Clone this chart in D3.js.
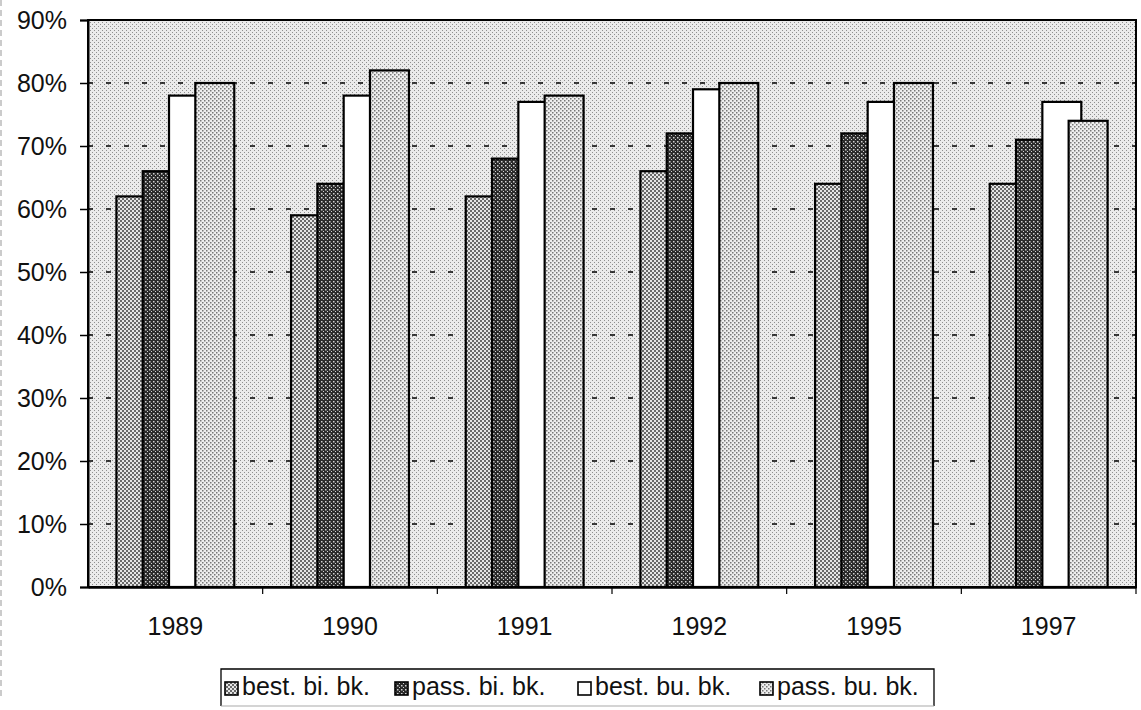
<!DOCTYPE html>
<html>
<head>
<meta charset="utf-8">
<script src="https://cdn.jsdelivr.net/npm/d3@7/dist/d3.min.js"></script>
<style>
  html, body { margin: 0; padding: 0; background: #fff; }
  svg { display: block; font-family: "Liberation Sans", Arial, Helvetica, sans-serif; }
</style>
</head>
<body>
<svg id="chart" width="1141" height="710"></svg>
<script>
// ---- data ----
const categories = ["1989", "1990", "1991", "1992", "1995", "1997"];
const seriesNames = ["best. bi. bk.", "pass. bi. bk.", "best. bu. bk.", "pass. bu. bk."];
const bestBiBk = [62, 59, 62, 66, 64, 64];
const passBiBk = [66, 64, 68, 72, 72, 71];
const bestBuBk = [78, 78, 77, 79, 77, 77];
const passBuBk = [80, 82, 78, 80, 80, 74];
const yTicks = [0, 10, 20, 30, 40, 50, 60, 70, 80, 90];

const seriesValues = [bestBiBk, passBiBk, bestBuBk, passBuBk];

// ---- layout ----
const svg = d3.select("#chart");
const pLeft = 88, pRight = 1136, pTop = 20, pBottom = 587;
const FS = 25;

const defs = svg.append("defs");
// background stipple
const pb = defs.append("pattern").attr("id", "pBg").attr("patternUnits", "userSpaceOnUse")
  .attr("width", 4).attr("height", 4);
pb.append("rect").attr("width", 4).attr("height", 4).attr("fill", "#ebebeb");
pb.append("rect").attr("x", 0).attr("y", 0).attr("width", 1).attr("height", 1).attr("fill", "#8f8f8f");
pb.append("rect").attr("x", 2).attr("y", 2).attr("width", 1).attr("height", 1).attr("fill", "#8f8f8f");

// series 1: medium checker
const p1 = defs.append("pattern").attr("id", "p0").attr("patternUnits", "userSpaceOnUse")
  .attr("width", 4).attr("height", 4);
p1.append("rect").attr("width", 4).attr("height", 4).attr("fill", "#e6e6e6");
p1.append("rect").attr("x", 0).attr("y", 0).attr("width", 2).attr("height", 2).attr("fill", "#6a6a6a");
p1.append("rect").attr("x", 2).attr("y", 2).attr("width", 2).attr("height", 2).attr("fill", "#6a6a6a");

// series 2: dark checker
const p2 = defs.append("pattern").attr("id", "p1").attr("patternUnits", "userSpaceOnUse")
  .attr("width", 4).attr("height", 4);
p2.append("rect").attr("width", 4).attr("height", 4).attr("fill", "#2a2a2a");
p2.append("rect").attr("x", 1).attr("y", 1).attr("width", 1.5).attr("height", 1.5).attr("fill", "#d0d0d0");
p2.append("rect").attr("x", 3).attr("y", 3).attr("width", 1).attr("height", 1).attr("fill", "#d0d0d0");

// series 4: light dots
const p4 = defs.append("pattern").attr("id", "p3").attr("patternUnits", "userSpaceOnUse")
  .attr("width", 4).attr("height", 4);
p4.append("rect").attr("width", 4).attr("height", 4).attr("fill", "#eeeeee");
p4.append("rect").attr("x", 0).attr("y", 0).attr("width", 1.5).attr("height", 1.5).attr("fill", "#777");
p4.append("rect").attr("x", 2).attr("y", 2).attr("width", 1.5).attr("height", 1.5).attr("fill", "#777");

const fills = ["url(#p0)", "url(#p1)", "#ffffff", "url(#p3)"];

const x0 = d3.scaleBand().domain(categories).range([pLeft, pRight]).padding(0);
const y = d3.scaleLinear().domain([0, 90]).range([pBottom, pTop]);

// scan edge artifact at the left margin
svg.append("line").attr("x1", 1).attr("x2", 1).attr("y1", 0).attr("y2", 700)
  .attr("stroke", "#bbb").attr("stroke-width", 1.5).attr("stroke-dasharray", "6,4");

// plot background
svg.append("rect").attr("x", pLeft).attr("y", pTop)
  .attr("width", pRight - pLeft).attr("height", pBottom - pTop)
  .attr("fill", "url(#pBg)");

// gridlines
svg.append("g").selectAll("line")
  .data(yTicks.filter(t => t > 0 && t < 90))
  .join("line")
  .attr("x1", pLeft).attr("x2", pRight)
  .attr("y1", d => y(d)).attr("y2", d => y(d))
  .attr("stroke", "#000").attr("stroke-width", 1.4)
  .attr("stroke-dasharray", "5,13");

// bars (overlapping, drawn in series order)
const bw = x0.bandwidth() * 0.223;       // width of each bar
const step = x0.bandwidth() * 0.1506;    // distance between bar starts
const groupSpan = step * 3 + bw;
const groupStart = (x0.bandwidth() - groupSpan) / 2;

const g = svg.append("g");
seriesValues.forEach((vals, si) => {
  g.selectAll(null)
    .data(vals)
    .join("rect")
    .attr("x", (d, i) => x0(categories[i]) + groupStart + si * step)
    .attr("y", d => y(d))
    .attr("width", bw)
    .attr("height", d => y(0) - y(d))
    .attr("fill", fills[si])
    .attr("stroke", "#000")
    .attr("stroke-width", 2.2);
});

// plot border
svg.append("rect").attr("x", pLeft).attr("y", pTop)
  .attr("width", pRight - pLeft).attr("height", pBottom - pTop)
  .attr("fill", "none").attr("stroke", "#000").attr("stroke-width", 2);

// y axis
const yAxis = d3.axisLeft(y).tickValues(yTicks).tickFormat(d => d + "%")
  .tickSize(8).tickPadding(13);
const ya = svg.append("g").attr("transform", `translate(${pLeft},0)`).call(yAxis);
ya.select(".domain").attr("stroke-width", 2);
ya.selectAll(".tick line").attr("stroke-width", 1.5);
ya.selectAll("text").attr("font-size", FS).attr("fill", "#111")
  .attr("font-family", "Liberation Sans, Arial, sans-serif");

// x axis
const xAxis = d3.axisBottom(x0).tickSize(0).tickPadding(30);
const xa = svg.append("g").attr("transform", `translate(0,${pBottom})`).call(xAxis);
xa.select(".domain").attr("stroke-width", 2.5);
xa.selectAll("text").attr("font-size", FS).attr("fill", "#111")
  .attr("font-family", "Liberation Sans, Arial, sans-serif");
// category separator ticks
svg.append("g").selectAll("line")
  .data(categories.slice(1).concat(["end"]))
  .join("line")
  .attr("x1", (d, i) => i < categories.length - 1 ? x0(d) : pRight)
  .attr("x2", (d, i) => i < categories.length - 1 ? x0(d) : pRight)
  .attr("y1", pBottom).attr("y2", pBottom + 7)
  .attr("stroke", "#000").attr("stroke-width", 1.2);

// legend
const lg = svg.append("g");
const legX = 221, legY = 669, legW = 713, legH = 37;
lg.append("rect").attr("x", legX).attr("y", legY).attr("width", legW).attr("height", legH)
  .attr("fill", "#fff").attr("stroke", "none");
lg.append("path")
  .attr("d", `M${legX},${legY + legH}V${legY}H${legX + legW}V${legY + legH}`)
  .attr("fill", "none").attr("stroke", "#000").attr("stroke-width", 1.3);
lg.append("line")
  .attr("x1", legX).attr("x2", legX + legW).attr("y1", legY + legH).attr("y2", legY + legH)
  .attr("stroke", "#aaa").attr("stroke-width", 1.2);
const legItemX = [225, 395, 578, 760];
seriesNames.forEach((name, i) => {
  lg.append("rect").attr("x", legItemX[i]).attr("y", legY + 13)
    .attr("width", 13).attr("height", 13)
    .attr("fill", fills[i]).attr("stroke", "#000").attr("stroke-width", 1.6);
  lg.append("text").attr("x", legItemX[i] + 17).attr("y", legY + 26)
    .attr("font-size", FS).attr("fill", "#111")
    .text(name);
});
</script>
</body>
</html>
